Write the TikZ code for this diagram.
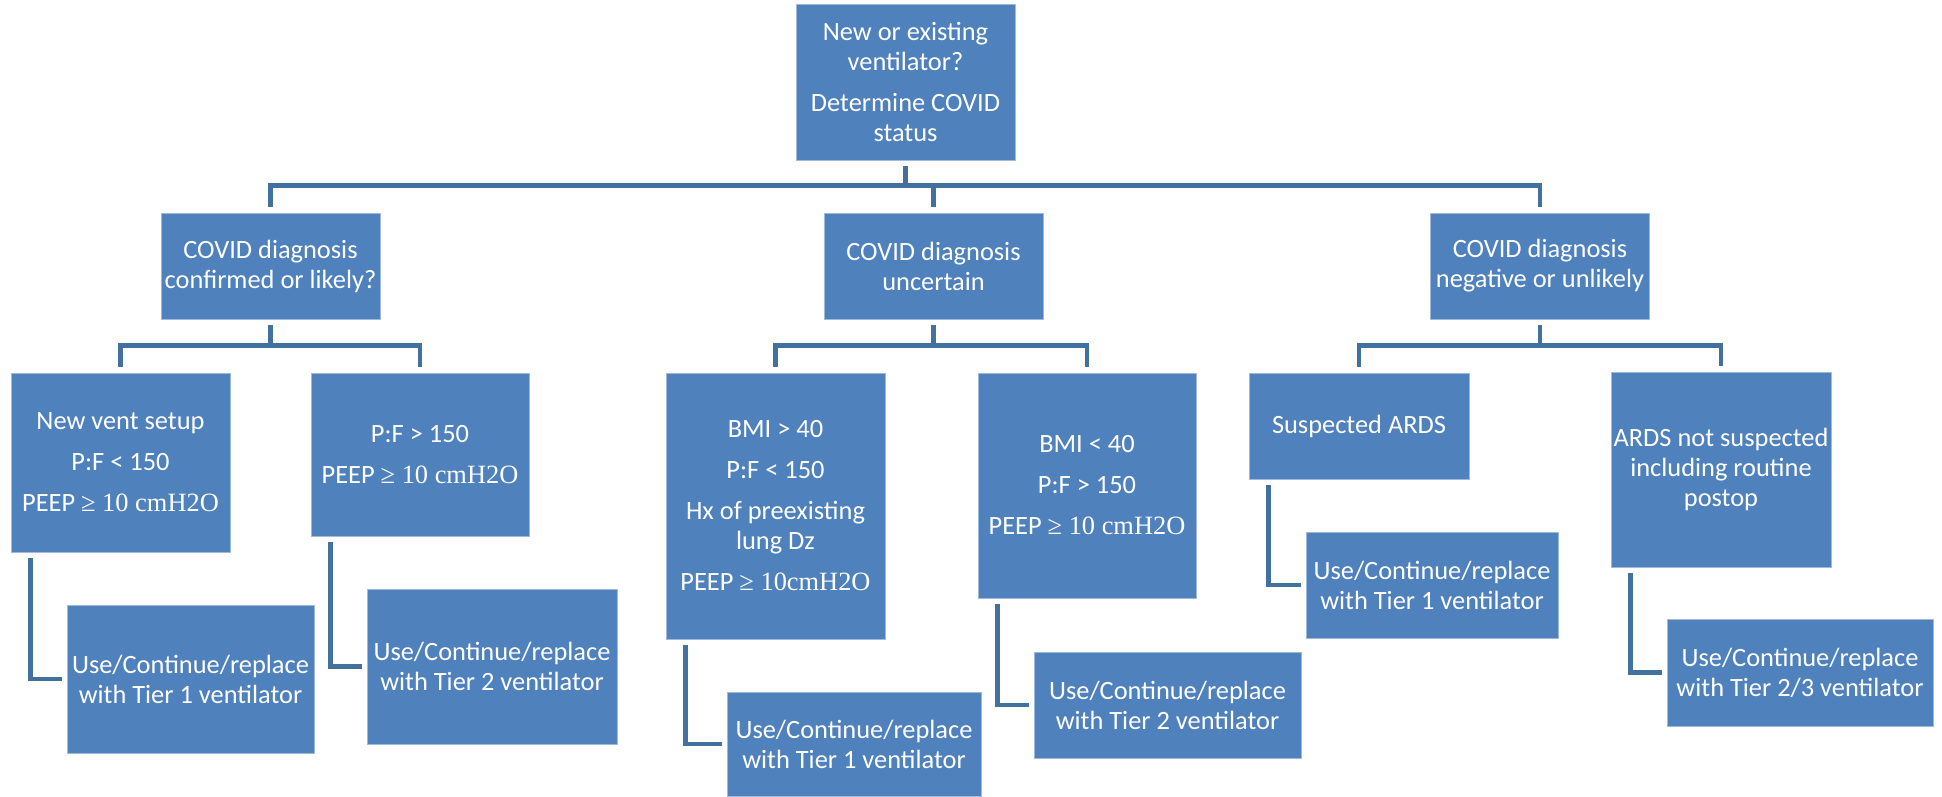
\documentclass[tikz,border=0pt]{standalone}
\usepackage{fontspec}
\setmainfont{Carlito}
\newfontfamily\tnr{Liberation Serif}
\usetikzlibrary{calc}
\definecolor{boxblue}{HTML}{4F81BD}
\definecolor{lineblue}{HTML}{41719C}

\begin{document}
\begin{tikzpicture}[x=0.5pt,y=-0.5pt,
  box/.style={rectangle,fill=boxblue,draw=boxblue!55!white,line width=0.4pt,inner sep=0pt,
    align=center,text=white,font=\fontsize{13.2}{15}\selectfont},
  conn/.style={draw=lineblue,line width=2.3pt}]
\useasboundingbox (0,0) rectangle (1942,797);

% top question
\node[box,minimum width=109.5pt,minimum height=78pt] (root) at (905.5,82)
  {New or existing\\ventilator?\\[5.5pt]Determine COVID\\status};

% covid status
\node[box,minimum width=109.5pt,minimum height=53pt] (covA) at (270.5,266)
  {COVID diagnosis\\confirmed or likely?};
\node[box,minimum width=109.5pt,minimum height=53pt] (covB) at (933.5,266)
  {COVID diagnosis\\uncertain};
\node[box,minimum width=109.5pt,minimum height=53pt] (covC) at (1540,266)
  {COVID diagnosis\\negative or unlikely};

% criteria
\node[box,minimum width=109.5pt,minimum height=89.5pt] (a1) at (120.5,462.5)
  {New vent setup\\[5.5pt]P:F < 150\\[5.5pt]PEEP {\tnr ≥ 10 cmH2O}};
\node[box,minimum width=109pt,minimum height=81.5pt] (a2) at (420,454.5)
  {P:F > 150\\[5.5pt]PEEP {\tnr ≥ 10 cmH2O}};
\node[box,minimum width=109.5pt,minimum height=133pt] (b1) at (775.5,506)
  {BMI > 40\\[5.5pt]P:F < 150\\[5.5pt]Hx of preexisting\\lung Dz\\[5.5pt]PEEP {\tnr ≥ 10cmH2O}};
\node[box,minimum width=109pt,minimum height=112.5pt] (b2) at (1087,485.5)
  {BMI < 40\\[5.5pt]P:F > 150\\[5.5pt]PEEP {\tnr ≥ 10 cmH2O}};
\node[box,minimum width=110pt,minimum height=53pt] (c1) at (1359,426)
  {Suspected ARDS};
\node[box,minimum width=110pt,minimum height=97.5pt] (c2) at (1721,469.5)
  {ARDS not suspected\\including routine\\postop};

% ventilator tier
\node[box,minimum width=123.5pt,minimum height=74pt] (a1t) at (190.5,679)
  {Use/Continue/replace\\with Tier 1 ventilator};
\node[box,minimum width=125pt,minimum height=77.5pt] (a2t) at (492,666.5)
  {Use/Continue/replace\\with Tier 2 ventilator};
\node[box,minimum width=127pt,minimum height=52pt] (b1t) at (854,744)
  {Use/Continue/replace\\with Tier 1 ventilator};
\node[box,minimum width=133.5pt,minimum height=53pt] (b2t) at (1167.5,705)
  {Use/Continue/replace\\with Tier 2 ventilator};
\node[box,minimum width=126pt,minimum height=53pt] (c1t) at (1432,585)
  {Use/Continue/replace\\with Tier 1 ventilator};
\node[box,minimum width=133pt,minimum height=53.5pt] (c2t) at (1800,672.5)
  {Use/Continue/replace\\with Tier 2/3 ventilator};

% tree lines
\draw[conn] ($(root.south)+(0,6)$) -- ++(0,20);
\draw[conn] ($(covA.north)+(0,-6)$) -- ++(0,-21) -| ($(covC.north)+(0,-6)$);
\draw[conn] ($(covB.north)+(0,-6)$) -- ++(0,-21);
\foreach \p/\l/\r in {covA/a1/a2,covB/b1/b2,covC/c1/c2}{
  \draw[conn] ($(\p.south)+(0,6)$) -- ++(0,21);
  \draw[conn] ($(\l.north)+(0,-6)$) -- ++(0,-21) -| ($(\r.north)+(0,-6)$);
}

% elbows to tier
\foreach \p/\c in {a1/a1t,a2/a2t,b1/b1t,b2/b2t,c1/c1t,c2/c2t}
  \draw[conn] ($(\p.south west)+(20,6)$) |- ($(\c.west)+(-5,0)$);
\end{tikzpicture}
\end{document}
